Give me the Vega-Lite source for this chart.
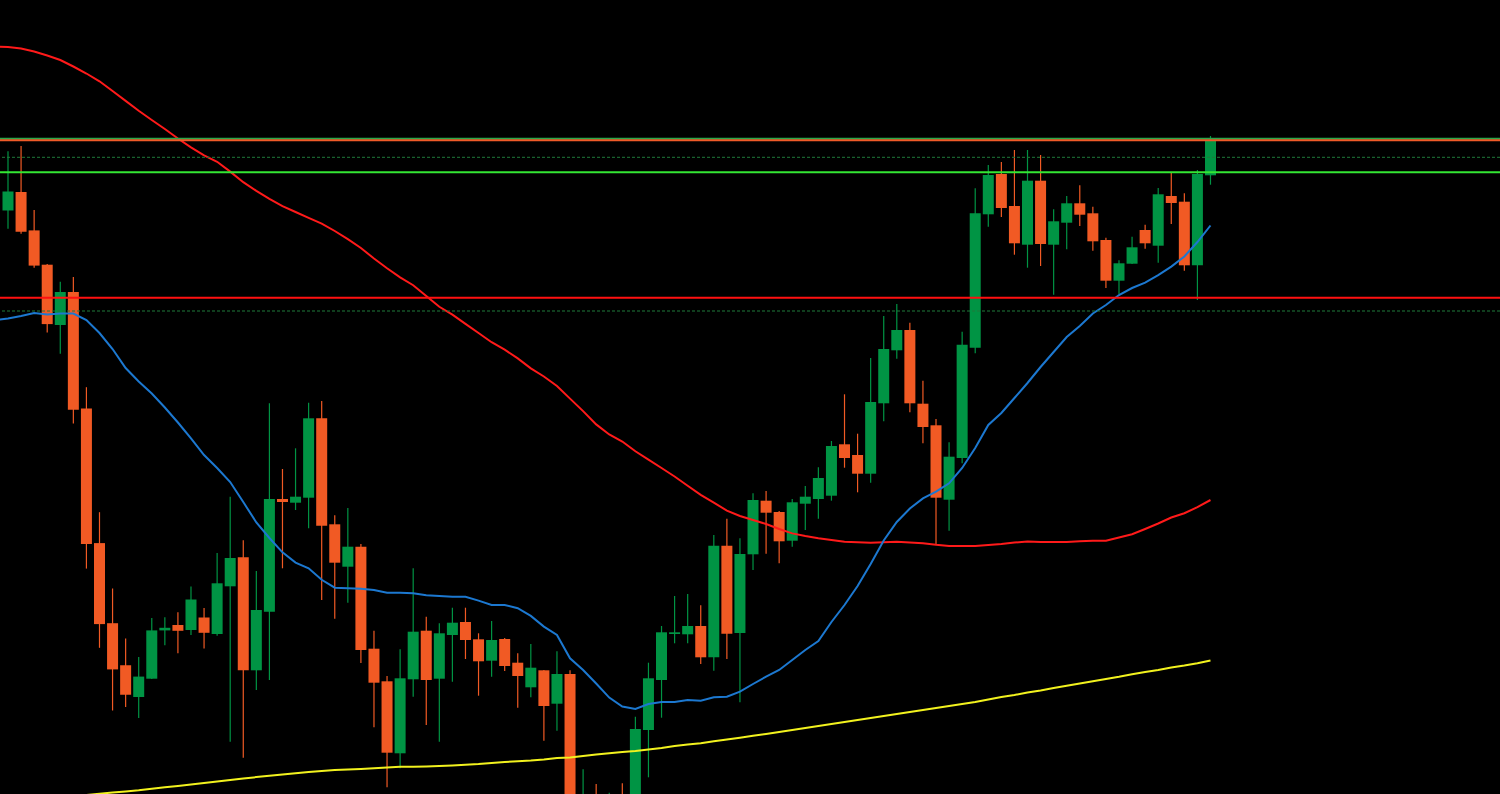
{
  "$schema": "https://vega.github.io/schema/vega-lite/v6.json",
  "autosize": {"type": "none"},
  "width": 1500,
  "height": 794,
  "padding": 0,
  "background": "#000000",
  "config": {"view": {"stroke": null, "fill": "#000000"}},
  "datasets": {
    "candles": [
      {"i":0,"o":589.5,"h":648.8,"l":571.3,"c":608.6},
      {"i":1,"o":608.1,"h":653.9,"l":566.2,"c":568.3},
      {"i":2,"o":569.6,"h":589.9,"l":532.3,"c":534.4},
      {"i":3,"o":535.3,"h":536,"l":467.5,"c":475.9},
      {"i":4,"o":475.1,"h":518.3,"l":446.3,"c":508.1},
      {"i":5,"o":508.1,"h":523,"l":376.4,"c":390.3},
      {"i":6,"o":391.6,"h":412.8,"l":231.4,"c":256},
      {"i":7,"o":256.9,"h":287.8,"l":152.2,"c":175.9},
      {"i":8,"o":176.8,"h":211.5,"l":89.5,"c":130.6},
      {"i":9,"o":134.8,"h":161.5,"l":92.9,"c":105.2},
      {"i":10,"o":103,"h":142.9,"l":81.9,"c":123.4},
      {"i":11,"o":121.3,"h":181.9,"l":121,"c":169.6},
      {"i":12,"o":169.6,"h":182.7,"l":154.7,"c":172.2},
      {"i":13,"o":175,"h":187.8,"l":146.7,"c":169.2},
      {"i":14,"o":170,"h":213.6,"l":164.9,"c":200.5},
      {"i":15,"o":182.5,"h":192,"l":151.5,"c":167.2},
      {"i":16,"o":166,"h":247,"l":164.3,"c":216.7},
      {"i":17,"o":213.7,"h":303.3,"l":58.3,"c":242},
      {"i":18,"o":242.7,"h":259.7,"l":42.3,"c":129.7},
      {"i":19,"o":129.7,"h":229,"l":110,"c":190},
      {"i":20,"o":188.3,"h":396.7,"l":120,"c":301},
      {"i":21,"o":301,"h":331,"l":231.7,"c":298},
      {"i":22,"o":297.3,"h":351.7,"l":290,"c":303.3},
      {"i":23,"o":302.3,"h":397.3,"l":271.7,"c":381.7},
      {"i":24,"o":381.7,"h":399,"l":200,"c":274.3},
      {"i":25,"o":275.7,"h":284.7,"l":181.3,"c":237.3},
      {"i":26,"o":233.3,"h":292,"l":197.3,"c":253.3},
      {"i":27,"o":253.3,"h":256,"l":137,"c":150},
      {"i":28,"o":151.3,"h":169.3,"l":72.7,"c":117.3},
      {"i":29,"o":118.7,"h":124,"l":12.7,"c":47.3},
      {"i":30,"o":46.7,"h":150.7,"l":31.7,"c":121.7},
      {"i":31,"o":120.7,"h":231.7,"l":103.3,"c":168.3},
      {"i":32,"o":169.3,"h":183.3,"l":75,"c":120},
      {"i":33,"o":121.3,"h":176.7,"l":58.3,"c":166.7},
      {"i":34,"o":165,"h":192.3,"l":118.3,"c":177.3},
      {"i":35,"o":178,"h":192.3,"l":141,"c":160},
      {"i":36,"o":160.7,"h":166.7,"l":104.3,"c":138.7},
      {"i":37,"o":139.3,"h":179,"l":123.3,"c":160},
      {"i":38,"o":161,"h":162,"l":129,"c":134},
      {"i":39,"o":137.3,"h":146.7,"l":92.3,"c":124},
      {"i":40,"o":112.7,"h":156,"l":102.7,"c":132.3},
      {"i":41,"o":129.7,"h":130,"l":59.3,"c":94},
      {"i":42,"o":96.3,"h":148.7,"l":69.3,"c":126},
      {"i":43,"o":126,"h":129.7,"l":-30,"c":-15},
      {"i":44,"o":-35,"h":30.7,"l":-45,"c":-5},
      {"i":45,"o":0,"h":16,"l":-30,"c":-20},
      {"i":46,"o":-25,"h":7.3,"l":-35,"c":-5},
      {"i":47,"o":0,"h":16.7,"l":-25,"c":-15},
      {"i":48,"o":-15,"h":83.3,"l":-25,"c":71},
      {"i":49,"o":70,"h":137.3,"l":22.7,"c":121.7},
      {"i":50,"o":120,"h":174,"l":82.3,"c":167.7},
      {"i":51,"o":166,"h":204,"l":156.7,"c":167.7},
      {"i":52,"o":165.7,"h":206,"l":156.7,"c":174},
      {"i":53,"o":174,"h":194.7,"l":136,"c":142.7},
      {"i":54,"o":142.7,"h":265,"l":129.3,"c":254.3},
      {"i":55,"o":254.3,"h":281.3,"l":141,"c":166.3},
      {"i":56,"o":167,"h":261.7,"l":97.7,"c":246},
      {"i":57,"o":245.7,"h":306.7,"l":230,"c":300},
      {"i":58,"o":299.3,"h":309,"l":246.3,"c":287.3},
      {"i":59,"o":288,"h":289,"l":236.7,"c":258.7},
      {"i":60,"o":259.3,"h":301,"l":253.3,"c":297.7},
      {"i":61,"o":296.3,"h":314,"l":270,"c":303.3},
      {"i":62,"o":301,"h":332.7,"l":281.3,"c":322},
      {"i":63,"o":304.3,"h":359,"l":299.3,"c":354},
      {"i":64,"o":355.7,"h":405.7,"l":332.3,"c":342},
      {"i":65,"o":345,"h":366.3,"l":307.7,"c":326.3},
      {"i":66,"o":326.3,"h":442,"l":317.3,"c":398},
      {"i":67,"o":396.7,"h":484,"l":378.7,"c":451},
      {"i":68,"o":449.7,"h":496,"l":441.3,"c":470},
      {"i":69,"o":470,"h":477.3,"l":387.7,"c":396.7},
      {"i":70,"o":396.3,"h":419.3,"l":356.7,"c":373},
      {"i":71,"o":374.7,"h":381,"l":256,"c":302.3},
      {"i":72,"o":300.3,"h":357.7,"l":269.3,"c":343.3},
      {"i":73,"o":342,"h":468.3,"l":336.7,"c":455.3},
      {"i":74,"o":452.3,"h":611.7,"l":446.7,"c":586.7},
      {"i":75,"o":585.7,"h":635,"l":573.3,"c":625},
      {"i":76,"o":626,"h":638,"l":583,"c":592},
      {"i":77,"o":594,"h":650,"l":545.3,"c":556.7},
      {"i":78,"o":555.3,"h":650,"l":532.3,"c":619.3},
      {"i":79,"o":619.3,"h":645,"l":534,"c":556},
      {"i":80,"o":555.3,"h":590.7,"l":505.3,"c":578.7},
      {"i":81,"o":577.3,"h":604,"l":550.7,"c":596.7},
      {"i":82,"o":596.7,"h":614.7,"l":574,"c":585.3},
      {"i":83,"o":586.7,"h":593.3,"l":549.3,"c":558.7},
      {"i":84,"o":560,"h":562.3,"l":512,"c":519.3},
      {"i":85,"o":519.3,"h":539.7,"l":506,"c":536.7},
      {"i":86,"o":536.3,"h":563.3,"l":536,"c":552.7},
      {"i":87,"o":570,"h":575.3,"l":551.3,"c":556.7},
      {"i":88,"o":554.3,"h":612,"l":537.3,"c":605.7},
      {"i":89,"o":604,"h":627.3,"l":576,"c":597},
      {"i":90,"o":598.3,"h":606.7,"l":529.3,"c":534.7},
      {"i":91,"o":534.7,"h":630,"l":500,"c":626},
      {"i":92,"o":624.7,"h":664,"l":615.3,"c":660}
    ],
    "averages": [
      {"i":-1,"slow":753.5,"fast":480,"long":-0.5},
      {"i":0,"slow":753,"fast":481.5,"long":0.2},
      {"i":1,"slow":751.5,"fast":484,"long":1},
      {"i":2,"slow":748.5,"fast":487,"long":1.8},
      {"i":3,"slow":744.5,"fast":485.5,"long":2.6},
      {"i":4,"slow":740,"fast":486.5,"long":3.4},
      {"i":5,"slow":733.5,"fast":486.5,"long":4.2},
      {"i":6,"slow":726.5,"fast":480,"long":5},
      {"i":7,"slow":718.7,"fast":467,"long":6.3},
      {"i":8,"slow":709,"fast":451,"long":7.5},
      {"i":9,"slow":699.1,"fast":432,"long":8.6},
      {"i":10,"slow":689.3,"fast":418.5,"long":9.8},
      {"i":11,"slow":680,"fast":406.5,"long":11.3},
      {"i":12,"slow":671,"fast":392.5,"long":12.7},
      {"i":13,"slow":661.5,"fast":377.5,"long":14.1},
      {"i":14,"slow":652.7,"fast":361.7,"long":15.5},
      {"i":15,"slow":644.7,"fast":345,"long":16.9},
      {"i":16,"slow":638.2,"fast":332,"long":18.4},
      {"i":17,"slow":628.4,"fast":318,"long":19.9},
      {"i":18,"slow":617.8,"fast":298,"long":21.4},
      {"i":19,"slow":609.2,"fast":277.5,"long":22.9},
      {"i":20,"slow":601.2,"fast":262,"long":24.2},
      {"i":21,"slow":593.9,"fast":247.7,"long":25.5},
      {"i":22,"slow":588,"fast":237.4,"long":26.8},
      {"i":23,"slow":582.2,"fast":231.7,"long":28},
      {"i":24,"slow":576.4,"fast":220.2,"long":29},
      {"i":25,"slow":569,"fast":212.3,"long":30},
      {"i":26,"slow":560.8,"fast":211.8,"long":30.5},
      {"i":27,"slow":552,"fast":211.3,"long":31.1},
      {"i":28,"slow":541.5,"fast":210,"long":31.7},
      {"i":29,"slow":531.8,"fast":207.3,"long":32.5},
      {"i":30,"slow":522.6,"fast":207.3,"long":33.3},
      {"i":31,"slow":514.8,"fast":206.7,"long":33.3},
      {"i":32,"slow":504,"fast":204.7,"long":33.6},
      {"i":33,"slow":493.2,"fast":204,"long":34},
      {"i":34,"slow":485.3,"fast":203.3,"long":34.6},
      {"i":35,"slow":476.1,"fast":203.3,"long":35.3},
      {"i":36,"slow":467,"fast":199.4,"long":36},
      {"i":37,"slow":457.8,"fast":195,"long":37},
      {"i":38,"slow":450.3,"fast":195,"long":38},
      {"i":39,"slow":441.6,"fast":191.8,"long":38.8},
      {"i":40,"slow":431.6,"fast":184.1,"long":39.5},
      {"i":41,"slow":423.5,"fast":173.4,"long":40.5},
      {"i":42,"slow":414,"fast":165,"long":42},
      {"i":43,"slow":401.4,"fast":141.7,"long":42.5},
      {"i":44,"slow":388.9,"fast":130,"long":44},
      {"i":45,"slow":375.6,"fast":116.5,"long":45.5},
      {"i":46,"slow":365.5,"fast":102.4,"long":46.7},
      {"i":47,"slow":358.5,"fast":93.5,"long":48},
      {"i":48,"slow":348.7,"fast":91,"long":49},
      {"i":49,"slow":340.4,"fast":96,"long":50.5},
      {"i":50,"slow":332,"fast":98,"long":52},
      {"i":51,"slow":323.5,"fast":98,"long":54},
      {"i":52,"slow":314.3,"fast":100,"long":55.5},
      {"i":53,"slow":305.2,"fast":99.3,"long":56.8},
      {"i":54,"slow":297.4,"fast":102.7,"long":58.7},
      {"i":55,"slow":289.4,"fast":103.3,"long":60.5},
      {"i":56,"slow":284,"fast":108.3,"long":62.3},
      {"i":57,"slow":280,"fast":116,"long":64.2},
      {"i":58,"slow":276,"fast":123.4,"long":66},
      {"i":59,"slow":271,"fast":130,"long":68},
      {"i":60,"slow":266.6,"fast":140,"long":70},
      {"i":61,"slow":264,"fast":150,"long":72},
      {"i":62,"slow":261.8,"fast":159,"long":74},
      {"i":63,"slow":260,"fast":178,"long":76},
      {"i":64,"slow":258.3,"fast":195,"long":78},
      {"i":65,"slow":257.8,"fast":214,"long":80},
      {"i":66,"slow":257.3,"fast":236,"long":82},
      {"i":67,"slow":257.7,"fast":259.5,"long":84},
      {"i":68,"slow":258.3,"fast":278,"long":86},
      {"i":69,"slow":257.5,"fast":291.5,"long":88},
      {"i":70,"slow":256.7,"fast":301.6,"long":90},
      {"i":71,"slow":255.2,"fast":308.3,"long":92},
      {"i":72,"slow":254,"fast":316.7,"long":94},
      {"i":73,"slow":254,"fast":332,"long":96},
      {"i":74,"slow":254,"fast":352,"long":98},
      {"i":75,"slow":255,"fast":375,"long":100.5},
      {"i":76,"slow":256,"fast":387,"long":103},
      {"i":77,"slow":257.4,"fast":402,"long":105},
      {"i":78,"slow":258.6,"fast":417,"long":107.5},
      {"i":79,"slow":258,"fast":433,"long":109.6},
      {"i":80,"slow":258,"fast":448,"long":112},
      {"i":81,"slow":258,"fast":463,"long":114.3},
      {"i":82,"slow":258.8,"fast":474,"long":116.5},
      {"i":83,"slow":259.3,"fast":486.5,"long":118.8},
      {"i":84,"slow":259.3,"fast":495,"long":121},
      {"i":85,"slow":262.5,"fast":505,"long":123.2},
      {"i":86,"slow":265.7,"fast":512,"long":125.7},
      {"i":87,"slow":271,"fast":517.4,"long":128},
      {"i":88,"slow":276.5,"fast":524.8,"long":130.1},
      {"i":89,"slow":282.5,"fast":533.4,"long":132.5},
      {"i":90,"slow":286.8,"fast":543.5,"long":134.5},
      {"i":91,"slow":292.8,"fast":558,"long":136.8},
      {"i":92,"slow":300,"fast":574.5,"long":139.5}
    ],
    "solidLevels": [
      {"name":"upper green","v":661.3},
      {"name":"upper orange","v":659.7},
      {"name":"lime","v":627.7},
      {"name":"red","v":502.3}
    ],
    "dottedLevels": [
      {"name":"dotted upper","v":642.7},
      {"name":"dotted lower","v":489}
    ]
  },
  "encoding": {
    "x": {"field": "i", "type": "quantitative", "axis": null, "scale": {"domain": [-0.612, 114.15], "nice": false, "zero": false, "padding": 0}}
  },
  "layer": [
    {
      "data": {"name": "candles"},
      "mark": {"type": "rule", "strokeWidth": 1.2, "clip": true},
      "encoding": {
        "y": {"field": "l", "type": "quantitative", "axis": null, "scale": {"domain": [6, 800], "nice": false, "zero": false, "padding": 0}},
        "y2": {"field": "h"},
        "color": {"condition": {"test": "datum.c > datum.o", "value": "#009444"}, "value": "#F15A24"}
      }
    },
    {
      "data": {"name": "candles"},
      "mark": {"type": "bar", "width": 11, "clip": true},
      "encoding": {
        "y": {"field": "o", "type": "quantitative", "axis": null, "scale": {"domain": [6, 800], "nice": false, "zero": false, "padding": 0}},
        "y2": {"field": "c"},
        "color": {"condition": {"test": "datum.c > datum.o", "value": "#009444"}, "value": "#F15A24"}
      }
    },
    {
      "data": {"name": "averages"},
      "mark": {"type": "line", "color": "#FF1A1A", "strokeWidth": 2, "clip": true},
      "encoding": {"y": {"field": "slow", "type": "quantitative", "axis": null, "scale": {"domain": [6, 800], "nice": false, "zero": false, "padding": 0}}}
    },
    {
      "data": {"name": "averages"},
      "mark": {"type": "line", "color": "#1C78D0", "strokeWidth": 2, "clip": true},
      "encoding": {"y": {"field": "fast", "type": "quantitative", "axis": null, "scale": {"domain": [6, 800], "nice": false, "zero": false, "padding": 0}}}
    },
    {
      "data": {"name": "averages"},
      "mark": {"type": "line", "color": "#F2F21E", "strokeWidth": 2, "clip": true},
      "encoding": {"y": {"field": "long", "type": "quantitative", "axis": null, "scale": {"domain": [6, 800], "nice": false, "zero": false, "padding": 0}}}
    },
    {
      "data": {"name": "dottedLevels"},
      "mark": {"type": "rule", "color": "#1F7A3A", "strokeWidth": 1, "strokeDash": [3, 2]},
      "encoding": {"x": null, "y": {"field": "v", "type": "quantitative", "axis": null, "scale": {"domain": [6, 800], "nice": false, "zero": false, "padding": 0}}}
    },
    {
      "data": {"name": "solidLevels"},
      "mark": {"type": "rule", "strokeWidth": 2},
      "encoding": {
        "x": null,
        "y": {"field": "v", "type": "quantitative", "axis": null, "scale": {"domain": [6, 800], "nice": false, "zero": false, "padding": 0}},
        "color": {"field": "name", "type": "nominal", "legend": null, "scale": {"domain": ["upper green", "upper orange", "lime", "red"], "range": ["#2BA84A", "#F05A28", "#33E633", "#FF1010"]}}
      }
    }
  ]
}
